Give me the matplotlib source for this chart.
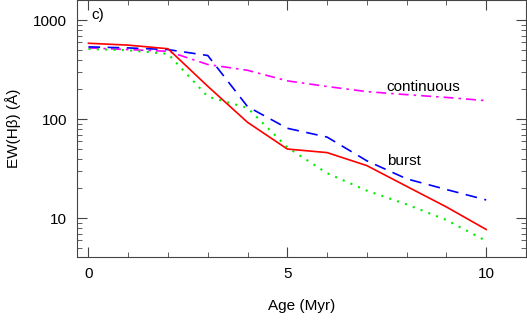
import matplotlib
matplotlib.use("Agg")
import matplotlib.pyplot as plt

plt.rcParams['font.family'] = ['Liberation Sans', 'DejaVu Sans']

age = [0, 1, 2, 3, 4, 5, 6, 7, 8, 9, 10]
ew_red = [585, 560, 515, 215, 93, 50, 46, 34, 21, 13, 7.7]
ew_blue = [538, 525, 505, 440, 134, 81, 66, 38, 25, 19.5, 15.3]
ew_green = [513, 497, 457, 169, 130, 52, 28.5, 19, 13.8, 9.6, 5.9]
ew_cont = [525, 505, 485, 357, 312, 244, 214, 190, 177, 166, 154]

fig = plt.figure(figsize=(5.27, 3.28), dpi=100)
ax = fig.add_axes([0.146, 0.2165, 0.852, 0.7835])

ax.plot(age, ew_cont, color='#ff00ff', lw=1.2, dashes=(6, 3, 1.5, 3))
ax.plot(age, ew_green, color='#00ee00', lw=1.5, linestyle=(0, (1, 3)))
ax.plot(age, ew_blue, color='#0000ff', lw=1.2, dashes=(7, 4.5))
ax.plot(age, ew_red, color='#ff0000', lw=1.2)

ax.set_yscale('log')
ax.set_xlim(-0.29, 11.0)
ax.set_ylim(4.06, 1600)
ax.set_xticks([0, 5, 10])
ax.set_xticks(range(11), minor=True)
ax.set_yticks([10, 100, 1000])
ax.set_yticklabels(['10', '100', '1000'])

for s in ax.spines.values():
    s.set_color('#444444')
ax.tick_params(which='both', direction='in', top=True, right=True,
               colors='#444444', labelcolor='black', labelsize=11)
ax.tick_params(which='major', length=7, pad=7)
ax.tick_params(which='minor', length=3.5)

ax.set_xlabel('Age (Myr)', fontsize=11, labelpad=13)
ax.set_ylabel('EW(Hβ) (Å)', fontsize=11, labelpad=9)

ax.text(7.5, 213, 'continuous', fontsize=11, va='center')
ax.text(7.5, 37.8, 'burst', fontsize=11, va='center')
ax.text(0.033, 0.94, 'c)', transform=ax.transAxes, fontsize=11, va='center')

fig.savefig('out.png', dpi=100)
